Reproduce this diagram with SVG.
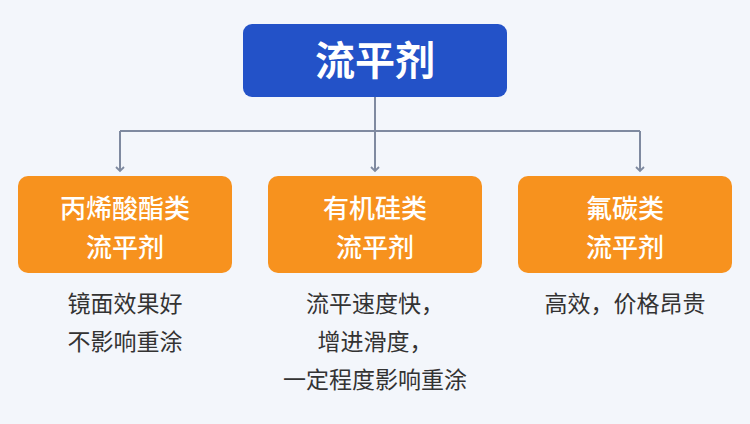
<svg xmlns="http://www.w3.org/2000/svg" width="750" height="424" viewBox="0 0 750 424">
<defs>
<marker id="ah" markerWidth="10" markerHeight="10" refX="5" refY="5" orient="auto" markerUnits="userSpaceOnUse"><path d="M1,1 L5,5 L1,9" fill="none" stroke="#7f8aa0" stroke-width="1.8"/></marker>
<style>
.t{font-family:"Noto Sans CJK SC",sans-serif;text-anchor:middle}
.ob{fill:#f7921e}
.ot{font-size:26px;fill:#fff;font-weight:500}
.d{font-size:23px;fill:#333}
.c{fill:none;stroke:#7f8aa0;stroke-width:2}
</style>
</defs>
<rect width="750" height="424" fill="#f3f6fb"/>
<g id="root"><rect x="243" y="24" width="264" height="73" rx="9" fill="#2352c8"/><text class="t" x="375" y="75" font-size="40" font-weight="bold" fill="#fff">流平剂</text></g>
<g id="connectors">
<path class="c" d="M375,97 V131 M120,131 H640"/>
<path class="c" d="M120,131 V171" marker-end="url(#ah)"/>
<path class="c" d="M375,131 V171" marker-end="url(#ah)"/>
<path class="c" d="M640,131 V171" marker-end="url(#ah)"/>
</g>
<g id="n1"><rect class="ob" x="18" y="176" width="214" height="97" rx="10"/><text class="t ot" x="125" y="218">丙烯酸酯类</text><text class="t ot" x="125" y="257">流平剂</text>
<text class="t d" x="125" y="312">镜面效果好</text><text class="t d" x="125" y="350">不影响重涂</text></g>
<g id="n2"><rect class="ob" x="268" y="176" width="214" height="97" rx="10"/><text class="t ot" x="375" y="218">有机硅类</text><text class="t ot" x="375" y="257">流平剂</text>
<text class="t d" x="375" y="312">流平速度快，</text><text class="t d" x="375" y="350">增进滑度，</text><text class="t d" x="375" y="388">一定程度影响重涂</text></g>
<g id="n3"><rect class="ob" x="518" y="176" width="214" height="97" rx="10"/><text class="t ot" x="625" y="218">氟碳类</text><text class="t ot" x="625" y="257">流平剂</text>
<text class="t d" x="625" y="312">高效，价格昂贵</text></g>
</svg>
